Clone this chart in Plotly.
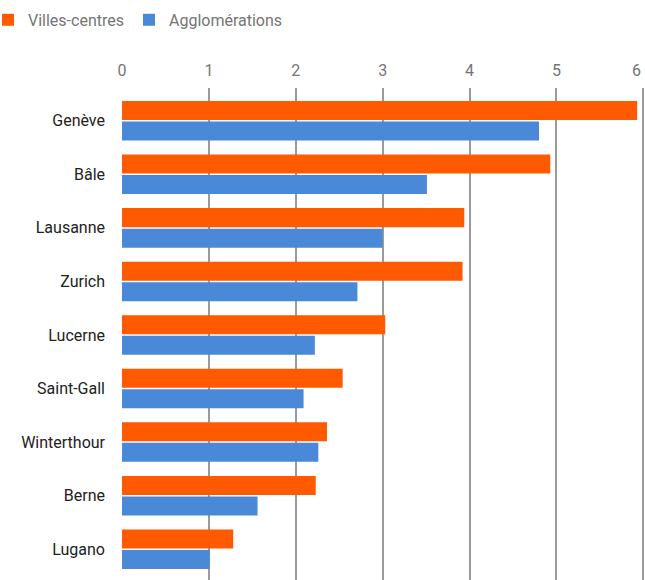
import plotly.graph_objects as go

# données
villes = ['Genève', 'Bâle', 'Lausanne', 'Zurich', 'Lucerne',
          'Saint-Gall', 'Winterthour', 'Berne', 'Lugano']
villes_centres = [5.93, 4.93, 3.94, 3.92, 3.03, 2.54, 2.36, 2.23, 1.28]
agglomerations = [4.80, 3.51, 3.00, 2.71, 2.22, 2.09, 2.26, 1.56, 1.01]
x_ticks = [0, 1, 2, 3, 4, 5, 6]
x_tick_labels = ['0', '1', '2', '3', '4', '5', '6']

ORANGE = '#ff5a00'
BLUE = '#4a89d8'
GRID = '#9a9a9a'
TICK_FONT = dict(family='Roboto, Arial, sans-serif', size=16, color='#757575')

fig = go.Figure()

fig.add_trace(go.Bar(
    y=villes, x=villes_centres, name='Villes-centres',
    orientation='h', marker=dict(color=ORANGE, line=dict(width=0)),
    hovertemplate='%{y}<br>Villes-centres: %{x}<extra></extra>'
))
fig.add_trace(go.Bar(
    y=villes, x=agglomerations, name='Agglomérations',
    orientation='h', marker=dict(color=BLUE, line=dict(width=0)),
    hovertemplate='%{y}<br>Agglomérations: %{x}<extra></extra>'
))

# le dernier libellé touche le bord droit : on l'aligne à droite de sa graduation
fig.add_annotation(
    x=x_ticks[-1], xref='x', y=1, yref='paper',
    text=x_tick_labels[-1], showarrow=False,
    xanchor='right', yanchor='bottom', yshift=6,
    font=TICK_FONT,
)

fig.update_layout(
    width=645, height=580,
    margin=dict(l=122, r=0, t=88, b=0, autoexpand=False),
    paper_bgcolor='white', plot_bgcolor='white',
    font=dict(family='Roboto, Arial, sans-serif', size=16, color='#757575'),
    barmode='group', bargap=0.234, bargroupgap=0.073,
    showlegend=True,
    legend=dict(
        orientation='h', xref='paper', yref='paper',
        x=-0.2562, y=1.173, xanchor='left', yanchor='top',
        font=dict(size=16, color='#757575'),
        itemclick=False,
    ),
    xaxis=dict(
        side='top', range=[0, 6.02],
        tickvals=x_ticks, ticktext=x_tick_labels[:-1] + [''],
        showgrid=True, gridcolor=GRID, gridwidth=1.5,
        zeroline=False, showline=False, ticks='',
        ticklabelstandoff=8,
        tickfont=TICK_FONT,
        fixedrange=True, automargin=False,
    ),
    yaxis=dict(
        categoryorder='array', categoryarray=villes,
        range=[8.575, -0.612],
        showgrid=False, zeroline=False, showline=False, ticks='',
        ticklabelstandoff=16,
        tickfont=dict(size=16, color='#222222'),
        fixedrange=True, automargin=False,
    ),
)

# supprime la marge par défaut de la page et la barre d'outils
fig.write_html("out.html", config={'displayModeBar': False},
               post_script="document.body.style.margin = '0';")
